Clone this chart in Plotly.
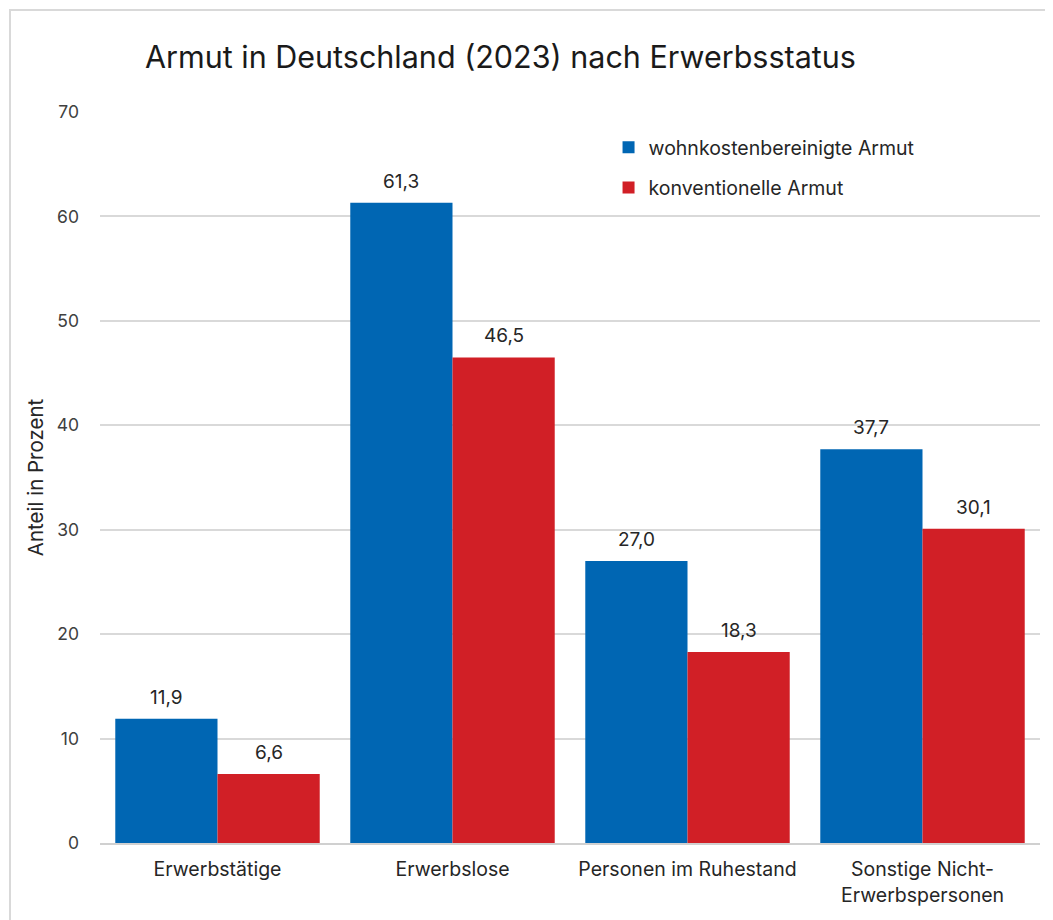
import plotly.graph_objects as go

categories = ["Erwerbstätige", "Erwerbslose", "Personen im Ruhestand", "Sonstige Nicht-<br>Erwerbspersonen"]
wohnkosten = [11.9, 61.3, 27.0, 37.7]
konventionell = [6.6, 46.5, 18.3, 30.1]
y_ticks = [0, 10, 20, 30, 40, 50, 60, 70]

FONT = "Inter, Roboto, sans-serif"
TXT = "#262626"

# geometry of the plot area (page has an 8px body offset)
OFF = 8
PL, PR, PT, PB = 100, 1040, 112, 843
PW, PH = PR - PL, PB - PT
BARGAP = 0.13
# half a bar width in px, used to centre the value labels over each bar
HALF = PW / len(categories) * (1 - BARGAP) / 4


def de(v):
    return f"{v:.1f}".replace(".", ",")


fig = go.Figure()
fig.add_trace(go.Bar(x=categories, y=wohnkosten, name="wohnkostenbereinigte Armut",
                     marker_color="#0066b3", marker_line_width=0, legendgroup="a"))
fig.add_trace(go.Bar(x=categories, y=konventionell, name="konventionelle Armut",
                     marker_color="#d11f26", marker_line_width=0, legendgroup="b"))

annotations = []
for series, shift in ((wohnkosten, -HALF), (konventionell, HALF)):
    for c, v in zip(categories, series):
        annotations.append(dict(x=c, y=v, text=de(v), showarrow=False, xshift=shift,
                                yanchor="bottom", yshift=8,
                                font=dict(size=19, color=TXT, family=FONT)))

fig.update_layout(
    width=1053, height=920,
    margin=dict(l=PL - OFF, r=1053 + OFF - PR, t=PT - OFF, b=920 + OFF - PB),
    paper_bgcolor="white", plot_bgcolor="white",
    font=dict(family=FONT, color=TXT, size=16),
    barmode="group", bargap=BARGAP, bargroupgap=0,
    title=dict(text="Armut in Deutschland (2023) nach Erwerbsstatus",
               x=(145 - OFF) / 1053, xanchor="left", y=1 - (57 - OFF) / 920, yanchor="middle",
               font=dict(size=30.5, color="#1a1a1a", family=FONT)),
    legend=dict(x=0.541, y=0.978, xanchor="left", yanchor="top",
                font=dict(size=19.5, color=TXT), tracegroupgap=12,
                bgcolor="rgba(0,0,0,0)", itemwidth=30),
    xaxis=dict(tickfont=dict(size=19.5, color=TXT), showline=True,
               linecolor="#d0d0d0", linewidth=2, ticks="", ticklabelstandoff=8),
    yaxis=dict(range=[0, 70], tickvals=y_ticks, showgrid=True,
               gridcolor="#d9d9d9", gridwidth=1.5, zeroline=False,
               tickfont=dict(size=17.5, color="#404040"), ticklabelstandoff=20,
               title=dict(text="Anteil in Prozent", font=dict(size=20.5, color=TXT), standoff=7)),
    annotations=annotations,
    shapes=[dict(type="rect", xref="paper", yref="paper",
                 x0=(10 - PL) / PW, x1=1.2, y0=-0.3, y1=(PB - 10) / PH,
                 line=dict(color="#d9d9d9", width=2), fillcolor="rgba(0,0,0,0)", layer="below")],
)

fig.write_html("out.html")
